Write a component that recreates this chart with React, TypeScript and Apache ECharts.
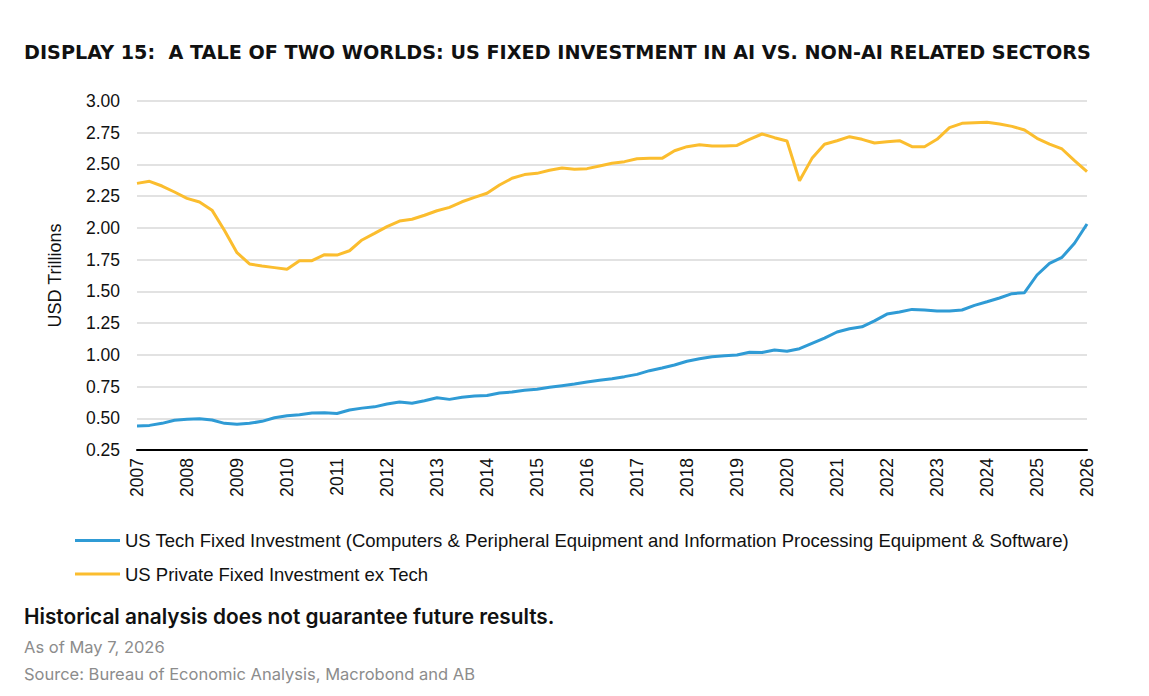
import React, { useEffect, useRef } from "react";
import * as echarts from "echarts";

const years: number[] = [2007, 2008, 2009, 2010, 2011, 2012, 2013, 2014, 2015, 2016, 2017, 2018, 2019, 2020, 2021, 2022, 2023, 2024, 2025, 2026];
const quarters: string[] = years.flatMap((y) => (y === 2026 ? [`${y}Q1`] : [`${y}Q1`, `${y}Q2`, `${y}Q3`, `${y}Q4`]));

const techInvestment: number[] = [
  0.439, 0.444, 0.46, 0.484,
  0.492, 0.496, 0.486, 0.46,
  0.452, 0.46, 0.476, 0.504,
  0.52, 0.528, 0.541, 0.544,
  0.538, 0.565, 0.58, 0.59,
  0.612, 0.628, 0.618, 0.638,
  0.662, 0.649, 0.665, 0.675,
  0.68, 0.699, 0.707, 0.72,
  0.728, 0.744, 0.757, 0.77,
  0.786, 0.799, 0.812, 0.828,
  0.846, 0.875, 0.896, 0.92,
  0.949, 0.969, 0.985, 0.993,
  0.998, 1.02, 1.018, 1.038,
  1.028, 1.048, 1.09, 1.132,
  1.18, 1.206, 1.221, 1.268,
  1.321, 1.337, 1.358, 1.353,
  1.345, 1.345, 1.353, 1.39,
  1.418, 1.448, 1.482, 1.49,
  1.629, 1.721, 1.768, 1.879,
  2.031,
];

const exTechInvestment: number[] = [
  2.351, 2.367, 2.33, 2.283,
  2.233, 2.204, 2.14, 1.98,
  1.805, 1.716, 1.7, 1.687,
  1.674, 1.742, 1.742, 1.789,
  1.786, 1.82, 1.905, 1.957,
  2.01, 2.054, 2.068, 2.1,
  2.135, 2.162, 2.206, 2.241,
  2.273, 2.338, 2.391, 2.42,
  2.43, 2.454, 2.472, 2.462,
  2.467, 2.488, 2.509, 2.522,
  2.545, 2.548, 2.548, 2.608,
  2.64, 2.656, 2.645, 2.645,
  2.65, 2.698, 2.74, 2.711,
  2.685, 2.372, 2.548, 2.659,
  2.687, 2.719, 2.698, 2.669,
  2.679, 2.687, 2.64, 2.64,
  2.698, 2.79, 2.824, 2.829,
  2.832, 2.819, 2.8, 2.771,
  2.706, 2.661, 2.622, 2.53,
  2.443,
];

const TITLE = "DISPLAY 15:  A TALE OF TWO WORLDS: US FIXED INVESTMENT IN AI VS. NON-AI RELATED SECTORS";
const SERIES_TECH = "US Tech Fixed Investment (Computers & Peripheral Equipment and Information Processing Equipment & Software)";
const SERIES_EX = "US Private Fixed Investment ex Tech";
const NOTE = "Historical analysis does not guarantee future results.";
const ASOF = "As of May 7, 2026";
const SOURCE = "Source: Bureau of Economic Analysis, Macrobond and AB";

const FONT = "'Liberation Sans', Arial, sans-serif";
const TITLE_FONT = "'DejaVu Sans', sans-serif";
const FOOT_FONT = "Inter, 'Liberation Sans', sans-serif";

export default function App() {
  const ref = useRef<HTMLDivElement>(null);
  useEffect(() => {
    if (!ref.current) return;
    const chart = echarts.init(ref.current, undefined, { renderer: "svg" });
    chart.setOption({
      animation: false,
      backgroundColor: "#ffffff",
      textStyle: { fontFamily: FONT },
      grid: { left: 137, right: 62, top: 101, bottom: 246, containLabel: false },
      legend: {
        orient: "vertical",
        left: 70,
        top: 526,
        itemWidth: 45,
        itemHeight: 3,
        itemGap: 14.5,
        icon: "rect",
        textStyle: { fontSize: 18.5, color: "#111111", fontFamily: FONT },
        data: [SERIES_TECH, SERIES_EX],
      },
      xAxis: {
        type: "category",
        data: quarters,
        boundaryGap: false,
        axisLine: { show: true, lineStyle: { color: "#000000", width: 2 } },
        axisTick: { show: false },
        axisLabel: {
          interval: (idx: number) => idx % 4 === 0,
          formatter: (v: string) => v.slice(0, 4),
          rotate: 90,
          fontSize: 17.5,
          color: "#111111",
          margin: 8,
          fontFamily: FONT,
        },
        splitLine: { show: false },
      },
      yAxis: {
        type: "value",
        min: 0.25,
        max: 3.0,
        interval: 0.25,
        name: "USD Trillions",
        nameLocation: "middle",
        nameGap: 73,
        nameRotate: 90,
        nameTextStyle: { fontSize: 18, color: "#111111", fontFamily: FONT },
        axisLine: { show: false },
        axisTick: { show: false },
        axisLabel: {
          formatter: (v: number) => v.toFixed(2),
          fontSize: 17.5,
          color: "#111111",
          margin: 17,
          fontFamily: FONT,
        },
        splitLine: { show: true, lineStyle: { color: "#d9d9d9", width: 1.5 } },
      },
      series: [
        {
          name: SERIES_TECH,
          type: "line",
          data: techInvestment,
          showSymbol: false,
          symbol: "none",
          lineStyle: { color: "#2f9bd5", width: 3 },
          itemStyle: { color: "#2f9bd5" },
        },
        {
          name: SERIES_EX,
          type: "line",
          data: exTechInvestment,
          showSymbol: false,
          symbol: "none",
          lineStyle: { color: "#fbbd2e", width: 3 },
          itemStyle: { color: "#fbbd2e" },
        },
      ],
      graphic: [
        {
          type: "text",
          left: 24,
          top: 43,
          style: { text: TITLE, fontSize: 19.2, fontWeight: "bold", fill: "#111111", fontFamily: TITLE_FONT },
        },
        {
          type: "text",
          left: 24,
          top: 606,
          style: { text: NOTE, fontSize: 20.8, fontWeight: 600, fill: "#111111", fontFamily: FOOT_FONT },
        },
        {
          type: "text",
          left: 24,
          top: 638,
          style: { text: ASOF, fontSize: 16.5, fill: "#8c8c8c", fontFamily: FOOT_FONT },
        },
        {
          type: "text",
          left: 24,
          top: 665,
          style: { text: SOURCE, fontSize: 16.5, fill: "#8c8c8c", fontFamily: FOOT_FONT },
        },
      ],
    });
    return () => chart.dispose();
  }, []);
  return <div ref={ref} style={{ width: 1149, height: 696, margin: -8 }} />;
}
